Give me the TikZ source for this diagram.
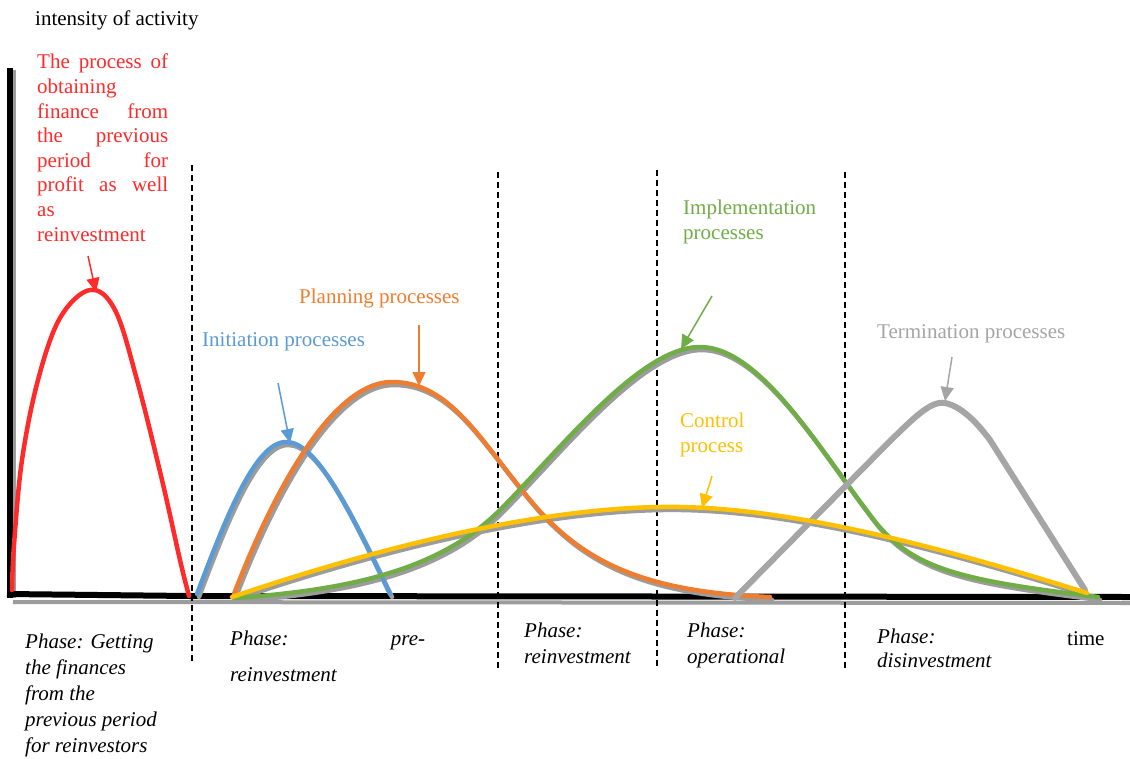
\documentclass[tikz,border=0pt]{standalone}
\usepackage{fontspec}
\setmainfont{Liberation Serif}
\usetikzlibrary{arrows.meta}
\definecolor{cred}{HTML}{FF2B2B}
\definecolor{cblue}{HTML}{5B9BD5}
\definecolor{corange}{HTML}{ED7D31}
\definecolor{cgreen}{HTML}{70AD47}
\definecolor{cgray}{HTML}{A5A5A5}
\definecolor{cyellow}{HTML}{FFC000}
\definecolor{cshadow}{HTML}{9C9C9C}
\begin{document}
\begin{tikzpicture}[x=1pt,y=-1pt,
  txt/.style={inner sep=0pt, anchor=base west, align=left, font=\fontsize{21}{25}\selectfont},
  ital/.style={txt, font=\fontsize{21}{26}\selectfont\itshape},
  curveline/.style={line width=4.5pt, line cap=round, line join=round},
  shadowline/.style={line width=4.5pt, line cap=round, line join=round, draw=cshadow},
  axisline/.style={line width=6pt, draw=black},
  axisshadow/.style={line width=4pt, draw=cshadow},
  phaseline/.style={line width=1.5pt, dash pattern=on 6pt off 4pt},
  arr/.style={line width=1.5pt, -{Triangle[length=14pt,width=13pt]}}
]
\useasboundingbox (0,0) rectangle (1130,758);
\fill[white] (0,0) rectangle (1130,758);

% axes
\coordinate (o) at (10,595);
\coordinate (ytop) at (10,68);
\coordinate (xend) at (1130,597);
\draw[axisshadow] (13,602) -- (1130,603);
\draw[axisshadow] (14,70) -- (14,598);
\draw[axisline] (ytop) -- (10,598);
\draw[axisline] (7,594) -- (190,596) -- (xend);

% phase separators
\coordinate (d1t) at (192,165); \coordinate (d1b) at (192,662);
\coordinate (d2t) at (498,172); \coordinate (d2b) at (498,670);
\coordinate (d3t) at (657,170); \coordinate (d3b) at (657,667);
\coordinate (d4t) at (845,172); \coordinate (d4b) at (845,670);
\draw[phaseline] (d1t) -- (d1b);
\draw[phaseline] (d2t) -- (d2b);
\draw[phaseline] (d3t) -- (d3b);
\draw[phaseline] (d4t) -- (d4b);

\def\blueC{(197,594) .. controls (225,520) and (255,442) .. (286,442) .. controls (315,442) and (345,500) .. (390,594)}
\def\orangeC{(234,594) .. controls (270,500) and (330,382) .. (392,382) .. controls (450,382) and (480,440) .. (530,500) .. controls (580,560) and (640,592) .. (770,597)}
\def\greenC{(235,598) .. controls (350,590) and (440,570) .. (500,510) .. controls (560,450) and (640,347) .. (700,347) .. controls (760,347) and (820,450) .. (870,515) .. controls (910,570) and (960,580) .. (1098,597)}
\def\yellowC{(232,597) .. controls (400,540) and (560,505) .. (680,507) .. controls (800,509) and (950,550) .. (1087,593)}
\def\grayC{(735,598) -- (890,441) .. controls (910,422) and (930,400) .. (945,403) .. controls (960,406) and (975,420) .. (990,440) -- (1085,590)}

% shadows
\begin{scope}[shift={(2,3)}]
\draw[shadowline] \blueC;
\draw[shadowline] \orangeC;
\draw[shadowline] \greenC;
\draw[shadowline] \yellowC;
\end{scope}

% curves
\draw[curveline, cred] plot[smooth, tension=0.6] coordinates {(12,590) (14,545) (22,460) (38,380) (60,318) (90,290) (115,310) (137,380) (162,480) (180,560) (189,596)};
\draw[curveline, cblue] \blueC;
\draw[curveline, corange] \orangeC;
\draw[curveline, cgreen] \greenC;
\draw[curveline, line width=6pt, cgray] \grayC;
\draw[curveline, cyellow] \yellowC;

% labels
\node[txt] (yl) at (35,25) {intensity of activity};
\node[txt, text=cred, font=\fontsize{21}{24.6}\selectfont] (redl) at (37,241) {%
\makebox[131pt][s]{The process of}\\
obtaining\\
\makebox[131pt][s]{finance from}\\
\makebox[131pt][s]{the previous}\\
\makebox[131pt][s]{period for}\\
\makebox[131pt][s]{profit as well}\\
as\\
reinvestment};
\node[txt, text=cblue] (bl) at (202,346) {Initiation processes};
\node[txt, text=corange] (ol) at (299,303) {Planning processes};
\node[txt, text=cgreen] (gl) at (683,239) {Implementation\\processes};
\node[txt, text=cgray] (tl) at (877,338) {Termination processes};
\node[txt, text=cyellow] (cl) at (680,452) {Control\\process};

% arrows
\coordinate (ra) at (88,256); \coordinate (rb) at (96,292);
\coordinate (ba) at (278,383); \coordinate (bb) at (290,443);
\coordinate (oa) at (419,325); \coordinate (ob) at (419,386);
\coordinate (ga) at (712,296); \coordinate (gb) at (681,349);
\coordinate (ta) at (952,357); \coordinate (tb) at (945,401);
\coordinate (ca) at (712,476); \coordinate (cb) at (702,508);
\draw[arr, cred] (ra) -- (rb);
\draw[arr, cblue] (ba) -- (bb);
\draw[arr, corange] (oa) -- (ob);
\draw[arr, cgreen] (ga) -- (gb);
\draw[arr, cgray] (ta) -- (tb);
\draw[arr, cyellow] (ca) -- (cb);

% phase labels
\node[ital] (p1) at (25,752) {Phase: Getting\\the finances\\from the\\previous period\\for reinvestors};
\node[ital, font=\fontsize{21}{36}\selectfont\itshape] (p2) at (230,681) {\makebox[195pt][s]{Phase: pre-}\\reinvestment};
\node[ital] (p3) at (524,663) {Phase:\\reinvestment};
\node[ital] (p4) at (687,663) {Phase:\\operational};
\node[ital, font=\fontsize{21}{24}\selectfont\itshape] (p5) at (877,667) {Phase:\\disinvestment};
\node[txt] (tm) at (1067,645) {time};
\end{tikzpicture}
\end{document}
